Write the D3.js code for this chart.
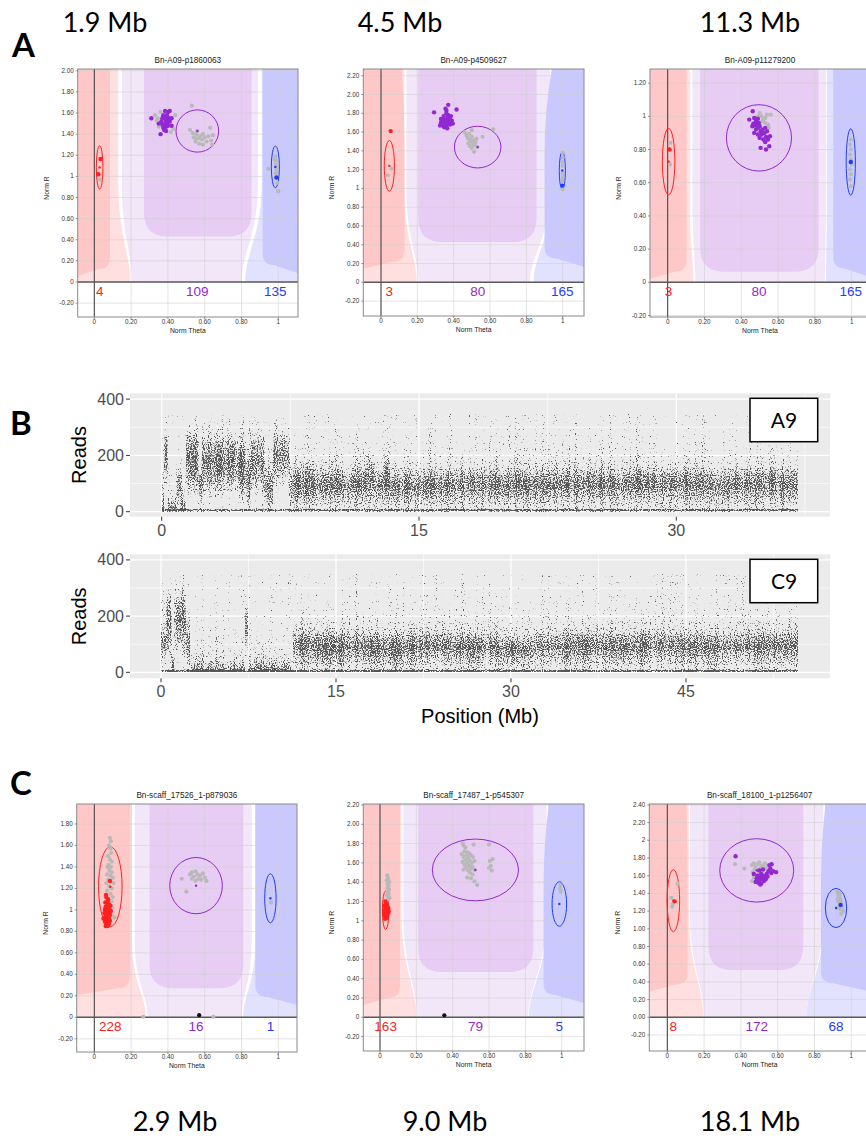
<!DOCTYPE html>
<html>
<head>
<meta charset="utf-8">
<script src="https://cdn.jsdelivr.net/npm/d3@7"></script>
<style>
  body { margin: 0; background: #fff; }
  svg { display: block; }
</style>
</head>
<body>
<svg id="fig" width="866" height="1143"></svg>
<script>
// ---------------- cluster plot data (Norm Theta, Norm R) ----------------
const thetaTicks = [0, 0.2, 0.4, 0.6, 0.8, 1];
const thetaLabels = ["0", "0.20", "0.40", "0.60", "0.80", "1"];

// A09 marker at 1.9 Mb
const a1Title = "Bn-A09-p1860063";
const a1RTicks = [2, 1.8, 1.6, 1.4, 1.2, 1, 0.8, 0.6, 0.4, 0.2, 0, -0.2];
const a1RLabels = ["2.00", "1.80", "1.60", "1.40", "1.20", "1", "0.80", "0.60", "0.40", "0.20", "0", "-0.20"];
const a1Counts = [4, 109, 135];
const a1Ellipses = [[0.029, 1.085, 0.018, 0.205], [0.56, 1.43, 0.116, 0.2], [0.984, 1.09, 0.022, 0.197]];
const a1Gray = [[0.33,1.58],[0.34,1.53],[0.35,1.47],[0.36,1.61],[0.44,1.58],[0.43,1.45],[0.415,1.42],[0.345,1.55],
  [0.53,1.67],[0.52,1.44],[0.535,1.41],[0.54,1.37],[0.55,1.33],[0.555,1.40],[0.565,1.36],[0.57,1.31],[0.575,1.38],
  [0.585,1.35],[0.59,1.40],[0.60,1.37],[0.61,1.33],[0.62,1.38],[0.63,1.46],[0.635,1.34],[0.645,1.39],[0.64,1.30],
  [0.59,1.30],[0.55,1.36],[0.56,1.43],[0.032,0.97],
  [0.946,1.07],[0.985,1.19],[0.99,1.15],[0.985,1.12],[0.99,1.06],[0.985,1.03],[0.995,0.94],[1.0,0.86],[0.99,1.09],[0.98,1.16]];
const a1Red = [[0.034, 1.165], [0.022, 1.02]];
const a1Purple = [[0.31,1.55],[0.36,1.40],[0.385,1.62],[0.40,1.61],[0.41,1.62],[0.42,1.55],[0.375,1.58],[0.38,1.55],
  [0.39,1.53],[0.395,1.56],[0.40,1.51],[0.385,1.50],[0.37,1.49],[0.375,1.46],[0.39,1.47],[0.40,1.48],[0.41,1.52],
  [0.38,1.44],[0.365,1.52],[0.395,1.58],[0.405,1.55],[0.37,1.55],[0.39,1.43],[0.42,1.48],[0.35,1.50]];
const a1Blue = [[0.99, 0.99]];

// A09 marker at 4.5 Mb
const a2Title = "Bn-A09-p4509627";
const a2RTicks = [2.2, 2, 1.8, 1.6, 1.4, 1.2, 1, 0.8, 0.6, 0.4, 0.2, 0, -0.2];
const a2RLabels = ["2.20", "2.00", "1.80", "1.60", "1.40", "1.20", "1", "0.80", "0.60", "0.40", "0.20", "0", "-0.20"];
const a2Counts = [3, 80, 165];
const a2Ellipses = [[0.046, 1.24, 0.028, 0.27], [0.532, 1.44, 0.128, 0.222], [0.998, 1.19, 0.017, 0.2]];
const a2Gray = [[0.46,1.60],[0.47,1.57],[0.475,1.55],[0.48,1.53],[0.485,1.58],[0.49,1.52],[0.495,1.50],[0.50,1.55],
  [0.505,1.48],[0.51,1.51],[0.515,1.46],[0.52,1.49],[0.49,1.45],[0.50,1.43],[0.48,1.48],[0.525,1.53],[0.53,1.44],
  [0.512,1.39],[0.559,1.55],[0.618,1.63],[0.50,1.62],[0.037,1.14],[0.059,1.21],
  [1.0,1.38],[1.0,1.33],[0.998,1.28],[1.0,1.24],[1.0,1.16],[1.0,1.12],[0.998,1.08],[1.0,1.02],[1.0,0.99]];
const a2Red = [[0.053, 1.61]];
const a2Purple = [[0.292,1.81],[0.416,1.84],[0.37,1.89],[0.355,1.85],[0.36,1.80],[0.345,1.77],[0.37,1.78],[0.365,1.75],
  [0.35,1.73],[0.34,1.71],[0.33,1.70],[0.355,1.70],[0.37,1.72],[0.38,1.74],[0.375,1.69],[0.36,1.67],[0.35,1.65],
  [0.34,1.68],[0.385,1.77],[0.39,1.72],[0.365,1.64],[0.33,1.74],[0.345,1.66],[0.38,1.68],[0.36,1.83],[0.395,1.69],[0.325,1.67]];
const a2Blue = [[0.998, 1.03]];

// A09 marker at 11.3 Mb
const a3Title = "Bn-A09-p11279200";
const a3RTicks = [1.2, 1, 0.8, 0.6, 0.4, 0.2, 0, -0.2];
const a3RLabels = ["1.20", "1", "0.80", "0.60", "0.40", "0.20", "0", "-0.20"];
const a3Counts = [3, 80, 165];
const a3Ellipses = [[0.005, 0.727, 0.034, 0.2], [0.496, 0.87, 0.177, 0.2], [0.995, 0.725, 0.025, 0.2]];
const a3Gray = [[0.50,1.02],[0.51,1.0],[0.52,0.98],[0.53,0.99],[0.54,1.01],[0.56,1.01],[0.545,0.95],[0.55,0.93],
  [0.53,0.96],[0.515,0.97],[0.505,0.93],[0.535,0.91],[0.525,0.89],[0.50,0.96],[0.49,1.0],[0.015,0.84],[0.012,0.71],
  [0.995,0.86],[0.99,0.83],[0.995,0.80],[0.99,0.77],[0.995,0.74],[1.0,0.71],[0.99,0.68],[0.995,0.65],[0.99,0.62],[0.995,0.58]];
const a3Red = [[0.01, 0.80]];
const a3Purple = [[0.462,1.03],[0.443,0.98],[0.47,0.99],[0.48,0.97],[0.485,0.95],[0.49,0.93],[0.495,0.96],[0.50,0.94],
  [0.505,0.91],[0.51,0.89],[0.48,0.92],[0.47,0.90],[0.49,0.89],[0.50,0.87],[0.52,0.86],[0.53,0.93],[0.54,0.91],
  [0.556,0.88],[0.545,0.86],[0.505,0.81],[0.534,0.80],[0.552,0.82],[0.46,0.94],[0.475,0.945],[0.515,0.92],
  [0.525,0.90],[0.535,0.875],[0.53,0.845],[0.49,0.985],[0.465,0.955]];
const a3Blue = [[0.995, 0.725]];

// C09 scaffold marker at 2.9 Mb
const c1Title = "Bn-scaff_17526_1-p879036";
const c1RTicks = [1.8, 1.6, 1.4, 1.2, 1, 0.8, 0.6, 0.4, 0.2, 0, -0.2];
const c1RLabels = ["1.80", "1.60", "1.40", "1.20", "1", "0.80", "0.60", "0.40", "0.20", "0", "-0.20"];
const c1Counts = [228, 16, 1];
const c1Ellipses = [[0.087, 1.216, 0.064, 0.372], [0.553, 1.226, 0.143, 0.262], [0.957, 1.108, 0.031, 0.228]];
const c1Gray = [[0.085,1.67],[0.09,1.64],[0.08,1.6],[0.088,1.57],[0.092,1.53],[0.075,1.50],[0.085,1.47],[0.095,1.45],
  [0.078,1.42],[0.09,1.40],[0.082,1.37],[0.095,1.35],[0.07,1.33],[0.087,1.32],[0.1,1.30],[0.075,1.28],[0.09,1.26],
  [0.105,1.25],[0.08,1.22],[0.095,1.20],[0.07,1.18],[0.088,1.15],[0.1,1.12],[0.078,1.10],[0.093,1.08],[0.085,1.05],
  [0.1,1.02],[0.08,0.98],[0.095,0.95],[0.11,0.93],[0.065,1.25],[0.072,1.4],
  [0.475,1.29],[0.52,1.33],[0.53,1.35],[0.54,1.31],[0.55,1.36],[0.56,1.33],[0.565,1.29],[0.575,1.32],[0.58,1.28],
  [0.59,1.34],[0.60,1.30],[0.61,1.27],[0.55,1.27],[0.50,1.17],[0.53,1.29],
  [0.96,1.07],[0.266,0.005],[0.647,0.005]];
const c1Red = [[0.085,1.27],[0.064,1.14],[0.065,1.12],[0.075,1.10],[0.06,1.07],[0.07,1.06],[0.08,1.05],[0.062,1.03],
  [0.072,1.02],[0.082,1.01],[0.058,1.0],[0.068,0.99],[0.078,0.985],[0.065,0.97],[0.075,0.96],[0.085,0.955],[0.06,0.94],
  [0.07,0.93],[0.08,0.925],[0.065,0.91],[0.075,0.90],[0.058,0.89],[0.07,0.88],[0.08,0.87],[0.065,0.86],[0.062,0.85],
  [0.072,0.85],[0.055,0.97],[0.09,0.99],[0.088,1.04],[0.05,0.92],[0.073,1.08],[0.06,1.01],[0.078,0.94],[0.068,0.965],[0.085,0.9]];
const c1Purple = [];
const c1Blue = [];
const c1Uncalled = [[0.57, 0.02]];

// C09 scaffold marker at 9.0 Mb
const c2Title = "Bn-scaff_17487_1-p545307";
const c2RTicks = [2.2, 2, 1.8, 1.6, 1.4, 1.2, 1, 0.8, 0.6, 0.4, 0.2, 0, -0.2];
const c2RLabels = ["2.20", "2.00", "1.80", "1.60", "1.40", "1.20", "1", "0.80", "0.60", "0.40", "0.20", "0", "-0.20"];
const c2Counts = [163, 79, 5];
const c2Ellipses = [[0.031, 1.11, 0.018, 0.2], [0.525, 1.527, 0.237, 0.32], [0.987, 1.174, 0.04, 0.23]];
const c2Gray = [[0.04,1.47],[0.045,1.44],[0.038,1.42],[0.05,1.40],[0.042,1.38],[0.047,1.36],[0.04,1.34],[0.05,1.32],
  [0.043,1.30],[0.048,1.28],[0.039,1.26],[0.052,1.24],[0.045,1.22],
  [0.455,1.80],[0.46,1.78],[0.47,1.76],[0.465,1.72],[0.48,1.71],[0.45,1.69],[0.475,1.68],[0.49,1.70],[0.50,1.68],
  [0.46,1.66],[0.485,1.65],[0.51,1.66],[0.47,1.63],[0.495,1.62],[0.455,1.61],[0.48,1.60],[0.505,1.60],[0.52,1.62],
  [0.465,1.58],[0.49,1.57],[0.51,1.56],[0.475,1.55],[0.50,1.54],[0.485,1.52],[0.52,1.53],[0.46,1.53],[0.495,1.50],
  [0.51,1.48],[0.48,1.45],[0.50,1.44],[0.52,1.41],[0.535,1.37],[0.515,1.79],[0.60,1.79],[0.605,1.62],[0.61,1.57],
  [0.62,1.64],[0.60,1.55],[0.615,1.52],
  [0.993,1.37],[0.99,1.33],[0.995,1.30]];
const c2Red = [[0.03,1.20],[0.035,1.18],[0.025,1.16],[0.04,1.15],[0.03,1.14],[0.045,1.13],[0.035,1.12],[0.025,1.11],
  [0.04,1.10],[0.03,1.09],[0.045,1.08],[0.035,1.07],[0.025,1.06],[0.04,1.05],[0.03,1.04],[0.038,1.03],[0.028,1.02],
  [0.042,1.12],[0.022,1.09],[0.048,1.1],[0.033,1.06],[0.036,1.16]];
const c2Purple = [];
const c2Blue = [];
const c2Uncalled = [[0.354, 0.02]];

// C09 scaffold marker at 18.1 Mb
const c3Title = "Bn-scaff_18100_1-p1256407";
const c3RTicks = [2.4, 2.2, 2, 1.8, 1.6, 1.4, 1.2, 1, 0.8, 0.6, 0.4, 0.2, 0, -0.2];
const c3RLabels = ["2.40", "2.20", "2", "1.80", "1.60", "1.40", "1.20", "1.00", "0.80", "0.60", "0.40", "0.20", "0.00", "-0.20"];
const c3Counts = [8, 172, 68];
const c3Ellipses = [[0.033, 1.318, 0.034, 0.35], [0.486, 1.66, 0.201, 0.358], [0.917, 1.235, 0.058, 0.222]];
const c3Gray = [[0.022,1.35],[0.026,1.25],[0.056,1.51],[0.03,1.28],
  [0.46,1.72],[0.47,1.74],[0.48,1.70],[0.49,1.73],[0.50,1.75],[0.51,1.71],[0.475,1.67],[0.49,1.66],[0.505,1.68],
  [0.52,1.70],[0.53,1.74],[0.535,1.68],[0.465,1.64],[0.48,1.61],[0.50,1.62],[0.515,1.64],[0.47,1.58],[0.49,1.56],
  [0.545,1.71],[0.46,1.54],[0.368,1.73],[0.419,1.68],[0.56,1.66],
  [0.925,1.42],[0.93,1.39],[0.94,1.40],[0.935,1.36],[0.925,1.34],[0.94,1.33],[0.93,1.31],[0.945,1.30],[0.935,1.28],
  [0.95,1.25],[0.94,1.22],[0.955,1.20],[0.945,1.17],[0.93,1.24]];
const c3Red = [[0.04, 1.31]];
const c3Purple = [[0.371,1.82],[0.50,1.66],[0.51,1.62],[0.49,1.60],[0.505,1.58],[0.515,1.56],[0.52,1.60],[0.53,1.58],
  [0.525,1.54],[0.50,1.55],[0.485,1.57],[0.495,1.52],[0.51,1.51],[0.54,1.62],[0.55,1.65],[0.545,1.59],[0.56,1.68],
  [0.565,1.63],[0.575,1.65],[0.591,1.64],[0.555,1.72],[0.567,1.73],[0.535,1.56],[0.52,1.67],[0.47,1.62],[0.48,1.53],[0.505,1.50]];
const c3Blue = [[0.942, 1.27]];

// ---------------- read depth along chromosomes ----------------
// [start Mb, end Mb, dense band low, dense band high] in reads
const readTicks = [0, 200, 400];
const a9Length = 37.1;
const a9Ticks = [0, 15, 30];
const a9Windows = [
  [0.00, 0.15, 0, 25], [0.15, 0.35, 140, 250], [0.35, 0.85, 0, 25], [0.85, 1.15, 60, 130],
  [1.15, 1.40, 0, 30], [1.40, 2.15, 120, 250], [2.15, 2.35, 60, 130], [2.35, 3.40, 110, 240],
  [3.40, 4.40, 120, 230], [4.40, 4.90, 100, 220], [4.90, 5.20, 60, 170], [5.20, 6.00, 120, 240],
  [6.00, 6.50, 40, 130], [6.50, 7.45, 150, 250], [7.45, 9.00, 50, 135], [9.00, 11.0, 60, 125],
  [11.0, 12.0, 65, 130], [12.0, 12.4, 75, 170], [12.4, 13.0, 60, 125], [13.0, 13.3, 70, 150],
  [13.3, 15.0, 55, 120], [15.0, 17.0, 60, 125], [17.0, 19.0, 65, 130], [19.0, 21.0, 60, 125],
  [21.0, 23.0, 60, 125], [23.0, 25.0, 65, 130], [25.0, 27.0, 60, 125], [27.0, 29.0, 65, 130],
  [29.0, 31.0, 65, 135], [31.0, 33.0, 60, 130], [33.0, 35.0, 65, 130], [35.0, 37.1, 65, 135]
];
const c9Length = 54.6;
const c9Ticks = [0, 15, 30, 45];
const c9Windows = [
  [0.00, 0.45, 70, 130], [0.45, 0.90, 120, 250], [0.90, 1.15, 0, 40], [1.15, 1.75, 130, 240],
  [1.75, 2.15, 120, 250], [2.15, 2.50, 60, 140], [2.50, 7.20, 0, 15], [7.20, 7.45, 110, 210],
  [7.45, 11.3, 0, 15], [11.3, 13.0, 60, 130], [13.0, 15.0, 60, 125], [15.0, 17.0, 60, 120],
  [17.0, 19.0, 60, 120], [19.0, 21.0, 55, 115], [21.0, 23.0, 60, 125], [23.0, 25.0, 65, 125],
  [25.0, 27.0, 60, 120], [27.0, 29.0, 60, 120], [29.0, 32.0, 55, 105], [32.0, 35.0, 60, 120],
  [35.0, 38.0, 65, 125], [38.0, 41.0, 60, 120], [41.0, 44.0, 65, 125], [44.0, 47.0, 60, 120],
  [47.0, 50.0, 60, 120], [50.0, 54.6, 65, 125]
];

// ---------------- drawing ----------------
const svg = d3.select("#fig");
const defs = svg.append("defs");
const SANS = "'Liberation Sans', Arial, sans-serif";
const HEAD = "Lato, 'Open Sans', sans-serif";

const COL = {
  redLight: "#ffdfdf", redDark: "#ffc8c8",
  purLight: "#f2e7f9", purDark: "#e7cdf3",
  bluLight: "#e2e2ff", bluDark: "#c9c9ff",
  red: "#ff2020", purple: "#9228d2", blue: "#1f3cff", gray: "#b9b9b9"
};

function clusterPlot(p) {
  const x = d3.scaleLinear().domain([0, 1]).range([p.x0, p.x0 + p.kx]);
  const y = d3.scaleLinear().domain([0, 1]).range([p.y0, p.y0 - p.ky]);
  const [fl, ft, fr, fb] = p.frame;
  const top = y.invert(ft);
  const g = svg.append("g");

  defs.append("clipPath").attr("id", p.id + "clip")
    .append("rect").attr("x", fl).attr("y", ft).attr("width", fr - fl).attr("height", fb - ft);
  defs.append("clipPath").attr("id", p.id + "reg")
    .append("rect").attr("x", fl).attr("y", ft).attr("width", fr - fl).attr("height", y(0) - ft);

  const body = g.append("g").attr("clip-path", `url(#${p.id}clip)`);
  body.append("rect").attr("x", fl).attr("y", ft).attr("width", fr - fl).attr("height", fb - ft).attr("fill", "#fff");

  // genotype decision regions
  const reg = body.append("g").attr("clip-path", `url(#${p.id}reg)`);
  const r = p.regions;
  const y0 = y(0), yb = y(r.bend), yc1 = y(r.bend * 0.45), yc2 = y(r.bend * 0.3);
  const yHi = y(top - (top - r.bend) * 0.35), yMidT = y(top * 0.6);

  // light red
  reg.append("path").attr("fill", COL.redLight).attr("d",
    `M${fl},${ft}L${x(r.rl[0])},${ft}L${x(r.rl[0])},${yb}` +
    `C${x(r.rl[0])},${yc1} ${x(r.rl[1])},${yc2} ${x(r.rl[1])},${y0}L${fl},${y0}Z`);
  // dark red
  {
    const xt = x(r.rd[0]), xm = x(r.rd[1]), ybt = y(r.rd[2]);
    reg.append("path").attr("fill", COL.redDark).attr("d",
      `M${fl},${ft}L${xt},${ft}Q${xm},${yHi} ${xm},${yMidT}L${xm},${ybt - 12}` +
      `Q${xm},${ybt} ${xm - 12},${ybt}L${fl},${ybt + 7}Z`);
  }
  // light purple
  {
    const [lt, lb, rt, rb] = r.pl;
    reg.append("path").attr("fill", COL.purLight).attr("d",
      `M${x(lt)},${ft}L${x(rt)},${ft}L${x(rt)},${yb}C${x(rt)},${yc1} ${x(rb)},${yc2} ${x(rb)},${y0}` +
      `L${x(lb)},${y0}C${x(lb)},${yc2} ${x(lt)},${yc1} ${x(lt)},${yb}Z`);
  }
  // dark purple
  {
    const xl = x(r.pd[0]), xr = x(r.pd[1]), ybt = y(r.pd[2]);
    const rad = Math.min(24, (ybt - ft) * 0.3);
    reg.append("path").attr("fill", COL.purDark).attr("d",
      `M${xl},${ft}L${xr},${ft}L${xr},${ybt - rad}Q${xr},${ybt} ${xr - rad},${ybt}` +
      `L${xl + rad},${ybt}Q${xl},${ybt} ${xl},${ybt - rad}Z`);
  }
  // light blue
  reg.append("path").attr("fill", COL.bluLight).attr("d",
    `M${x(r.bl[0])},${ft}L${fr},${ft}L${fr},${y0}L${x(r.bl[1])},${y0}` +
    `C${x(r.bl[1])},${yc2} ${x(r.bl[0])},${yc1} ${x(r.bl[0])},${yb}Z`);
  // dark blue
  {
    const xt = x(r.bd[0]), xm = x(r.bd[1]), ybt = y(r.bd[2]);
    reg.append("path").attr("fill", COL.bluDark).attr("d",
      `M${xt},${ft}L${fr},${ft}L${fr},${ybt + 5}L${xm + 12},${ybt - 3}` +
      `Q${xm},${ybt - 3} ${xm},${ybt - 15}L${xm},${yMidT}Q${xm},${yHi} ${xt},${ft}Z`);
  }

  // grid
  body.append("g").selectAll("line.v").data(thetaTicks).join("line")
    .attr("x1", d => x(d)).attr("x2", d => x(d)).attr("y1", ft).attr("y2", fb)
    .attr("stroke", "#cfcfcf").attr("stroke-opacity", 0.7).attr("stroke-width", 0.8);
  body.append("g").selectAll("line.h").data(p.rTicks).join("line")
    .attr("x1", fl).attr("x2", fr).attr("y1", d => y(d)).attr("y2", d => y(d))
    .attr("stroke", "#cfcfcf").attr("stroke-opacity", 0.7).attr("stroke-width", 0.8);

  // zero axes
  body.append("line").attr("x1", x(0)).attr("x2", x(0)).attr("y1", ft).attr("y2", fb)
    .attr("stroke", "#3a3a3a").attr("stroke-width", 1);
  body.append("line").attr("x1", fl).attr("x2", fr).attr("y1", y(0)).attr("y2", y(0))
    .attr("stroke", "#5a5a5a").attr("stroke-width", 1.4);

  // cluster ellipses
  const ecol = [COL.red, COL.purple, COL.blue];
  body.append("g").selectAll("ellipse").data(p.ellipses).join("ellipse")
    .attr("cx", d => x(d[0])).attr("cy", d => y(d[1]))
    .attr("rx", d => x(d[0] + d[2]) - x(d[0])).attr("ry", d => y(d[1]) - y(d[1] + d[3]))
    .attr("fill", "none").attr("stroke", (d, i) => ecol[i]).attr("stroke-width", 1);

  // samples
  const dots = (data, color, rad) => body.append("g").selectAll("circle").data(data).join("circle")
    .attr("cx", d => x(d[0])).attr("cy", d => y(d[1])).attr("r", rad).attr("fill", color);
  dots(p.gray, COL.gray, 2.1);
  dots(p.uncalled || [], "#111", 2.1);
  dots(p.red, COL.red, 2.2);
  dots(p.purple, COL.purple, 2.2);
  dots(p.blue, COL.blue, 2.2);
  // cluster centres
  body.append("g").selectAll("circle").data(p.ellipses).join("circle")
    .attr("cx", d => x(d[0])).attr("cy", d => y(d[1])).attr("r", 1.2).attr("fill", (d, i) => ecol[i]);

  // genotype counts
  body.append("g").selectAll("text").data(p.counts).join("text")
    .attr("x", (d, i) => x(p.ellipses[i][0])).attr("y", y(0) + 14)
    .attr("text-anchor", "middle").attr("font-family", SANS).attr("font-size", 13.5)
    .attr("fill", (d, i) => ecol[i]).text(d => d);

  // frame
  g.append("rect").attr("x", fl).attr("y", ft).attr("width", fr - fl).attr("height", fb - ft)
    .attr("fill", "none").attr("stroke", "#8a8a8a").attr("stroke-width", 1);

  // tick labels
  g.append("g").selectAll("text").data(p.rTicks).join("text")
    .attr("x", fl - 4).attr("y", d => y(d) + 2).attr("text-anchor", "end")
    .attr("font-family", SANS).attr("font-size", 6.3).attr("fill", "#333").text((d, i) => p.rLabels[i]);
  g.append("g").selectAll("line").data(p.rTicks).join("line")
    .attr("x1", fl - 2).attr("x2", fl).attr("y1", d => y(d)).attr("y2", d => y(d)).attr("stroke", "#666").attr("stroke-width", 0.7);
  g.append("g").selectAll("text").data(thetaTicks).join("text")
    .attr("x", d => x(d)).attr("y", fb + 7).attr("text-anchor", "middle")
    .attr("font-family", SANS).attr("font-size", 6.3).attr("fill", "#333").text((d, i) => thetaLabels[i]);
  g.append("g").selectAll("line").data(thetaTicks).join("line")
    .attr("x1", d => x(d)).attr("x2", d => x(d)).attr("y1", fb).attr("y2", fb + 2).attr("stroke", "#666").attr("stroke-width", 0.7);

  // titles
  g.append("text").attr("x", (fl + Math.min(fr, 870)) / 2).attr("y", ft - 6).attr("text-anchor", "middle")
    .attr("font-family", SANS).attr("font-size", 8.2).attr("fill", "#222").text(p.title);
  g.append("text").attr("x", (fl + Math.min(fr, 870)) / 2).attr("y", fb + 16).attr("text-anchor", "middle")
    .attr("font-family", SANS).attr("font-size", 6.8).attr("fill", "#222").text("Norm Theta");
  g.append("text").attr("transform", `translate(${fl - 29},${(ft + fb) / 2 - 5}) rotate(-90)`)
    .attr("text-anchor", "middle").attr("font-family", SANS).attr("font-size", 6.8).attr("fill", "#222").text("Norm R");
}

const plots = [
  { id: "a1", title: a1Title, rTicks: a1RTicks, rLabels: a1RLabels, counts: a1Counts, ellipses: a1Ellipses,
    gray: a1Gray, red: a1Red, purple: a1Purple, blue: a1Blue,
    x0: 94.3, kx: 184, y0: 282, ky: 105.6, frame: [77.7, 69, 298, 317],
    regions: { rl: [0.13, 0.195], rd: [0.085, 0.085, 0.12], pl: [0.15, 0.205, 0.89, 0.80], pd: [0.27, 0.855, 0.43],
      bl: [0.91, 0.82], bd: [0.915, 0.915, 0.13], bend: 0.95 } },
  { id: "a2", title: a2Title, rTicks: a2RTicks, rLabels: a2RLabels, counts: a2Counts, ellipses: a2Ellipses,
    gray: a2Gray, red: a2Red, purple: a2Purple, blue: a2Blue,
    x0: 381, kx: 181.7, y0: 282.3, ky: 93.9, frame: [363.3, 69, 584, 316],
    regions: { rl: [0.128, 0.196], rd: [0.115, 0.13, 0.22], pl: [0.14, 0.205, 0.93, 0.82], pd: [0.205, 0.856, 0.43],
      bl: [0.94, 0.84], bd: [0.94, 0.90, 0.22], bend: 1.0 } },
  { id: "a3", title: a3Title, rTicks: a3RTicks, rLabels: a3RLabels, counts: a3Counts, ellipses: a3Ellipses,
    gray: a3Gray, red: a3Red, purple: a3Purple, blue: a3Blue,
    x0: 667.7, kx: 184, y0: 282.3, ky: 166, frame: [650, 69, 870, 317],
    regions: { rl: [0.12, 0.14], rd: [0.103, 0.103, 0.064], pl: [0.135, 0.15, 0.86, 0.855], pd: [0.176, 0.82, 0.064],
      bl: [0.865, 0.86], bd: [0.9, 0.9, 0.064], bend: 0.5 } },
  { id: "c1", title: c1Title, rTicks: c1RTicks, rLabels: c1RLabels, counts: c1Counts, ellipses: c1Ellipses,
    gray: c1Gray, red: c1Red, purple: c1Purple, blue: c1Blue, uncalled: c1Uncalled,
    x0: 94.3, kx: 184, y0: 1017.3, ky: 107.4, frame: [76.7, 804, 297, 1052],
    regions: { rl: [0.205, 0.28], rd: [0.194, 0.194, 0.27], pl: [0.22, 0.29, 0.855, 0.80], pd: [0.30, 0.81, 0.27],
      bl: [0.875, 0.81], bd: [0.875, 0.875, 0.16], bend: 0.7 } },
  { id: "c2", title: c2Title, rTicks: c2RTicks, rLabels: c2RLabels, counts: c2Counts, ellipses: c2Ellipses,
    gray: c2Gray, red: c2Red, purple: c2Purple, blue: c2Blue, uncalled: c2Uncalled,
    x0: 380, kx: 181.7, y0: 1017.3, ky: 96.5, frame: [363.3, 804, 584, 1051],
    regions: { rl: [0.118, 0.2], rd: [0.11, 0.11, 0.2], pl: [0.128, 0.205, 0.917, 0.816], pd: [0.21, 0.844, 0.47],
      bl: [0.925, 0.82], bd: [0.93, 0.9, 0.2], bend: 1.1 } },
  { id: "c3", title: c3Title, rTicks: c3RTicks, rLabels: c3RLabels, counts: c3Counts, ellipses: c3Ellipses,
    gray: c3Gray, red: c3Red, purple: c3Purple, blue: c3Blue,
    x0: 667.3, kx: 184, y0: 1017.3, ky: 88.5, frame: [649.3, 804, 870, 1051],
    regions: { rl: [0.117, 0.196], rd: [0.105, 0.11, 0.37], pl: [0.123, 0.2, 0.848, 0.757], pd: [0.223, 0.739, 0.535],
      bl: [0.857, 0.757], bd: [0.86, 0.835, 0.35], bend: 1.2 } }
];
plots.forEach(clusterPlot);

// ---------- dithering filter: read-cloud opacity becomes dot density ----------
{
  const f = defs.append("filter").attr("id", "dither").attr("filterUnits", "userSpaceOnUse")
    .attr("x", 0).attr("y", 380).attr("width", 866).attr("height", 320)
    .attr("color-interpolation-filters", "sRGB");
  f.append("feTurbulence").attr("type", "fractalNoise").attr("baseFrequency", "0.85")
    .attr("numOctaves", 1).attr("seed", 4).attr("result", "n");
  f.append("feColorMatrix").attr("in", "n").attr("type", "matrix")
    .attr("values", "0 0 0 0 0  0 0 0 0 0  0 0 0 0 0  1 0 0 0 0").attr("result", "m1");
  f.append("feTurbulence").attr("type", "fractalNoise").attr("baseFrequency", "0.2 0.008")
    .attr("numOctaves", 2).attr("seed", 24).attr("result", "s");
  f.append("feColorMatrix").attr("in", "s").attr("type", "matrix")
    .attr("values", "0 0 0 0 0  0 0 0 0 0  0 0 0 0 0  1 0 0 0 0").attr("result", "m2");
  f.append("feComposite").attr("in", "m1").attr("in2", "m2").attr("operator", "arithmetic")
    .attr("k1", 0).attr("k2", 1).attr("k3", 0.25).attr("k4", -0.125).attr("result", "m");
  f.append("feComposite").attr("in", "SourceGraphic").attr("in2", "m").attr("operator", "arithmetic")
    .attr("k1", 0).attr("k2", 10).attr("k3", 10).attr("k4", -10.6).attr("result", "d");
  f.append("feGaussianBlur").attr("in", "d").attr("stdDeviation", 0.35);
}

function readsPanel(c) {
  const [pl, pt, pr, pb] = c.frame;
  const x = d3.scaleLinear().domain([0, 15]).range([c.x0, c.x15]);
  const y = d3.scaleLinear().domain([0, 200]).range([c.y0, c.y200]);
  const g = svg.append("g");
  defs.append("clipPath").attr("id", c.id + "clip")
    .append("rect").attr("x", pl).attr("y", pt).attr("width", pr - pl).attr("height", pb - pt);

  g.append("rect").attr("x", pl).attr("y", pt).attr("width", pr - pl).attr("height", pb - pt).attr("fill", "#ebebeb");
  const minorX = c.ticks.map(t => t + 7.5).filter(t => x(t) < pr);
  const grid = g.append("g").attr("clip-path", `url(#${c.id}clip)`);
  grid.selectAll("line.mx").data(minorX).join("line")
    .attr("x1", d => x(d)).attr("x2", d => x(d)).attr("y1", pt).attr("y2", pb).attr("stroke", "#fff").attr("stroke-width", 0.6);
  grid.selectAll("line.my").data([100, 300]).join("line")
    .attr("x1", pl).attr("x2", pr).attr("y1", d => y(d)).attr("y2", d => y(d)).attr("stroke", "#fff").attr("stroke-width", 0.6);
  grid.selectAll("line.Mx").data(c.ticks).join("line")
    .attr("x1", d => x(d)).attr("x2", d => x(d)).attr("y1", pt).attr("y2", pb).attr("stroke", "#fff").attr("stroke-width", 1.2);
  grid.selectAll("line.My").data(readTicks).join("line")
    .attr("x1", pl).attr("x2", pr).attr("y1", d => y(d)).attr("y2", d => y(d)).attr("stroke", "#fff").attr("stroke-width", 1.2);

  // one vertical opacity profile per window: faint tail above, dense band, spread below
  c.windows.forEach((w, i) => {
    const [s, e, lo, hi] = w;
    const vTop = Math.min(360, hi + 170), vBot = Math.max(0, lo - 60);
    const yT = y(vTop), yB = y(vBot), off = v => (y(v) - yT) / (yB - yT);
    const lg = defs.append("linearGradient").attr("id", `${c.id}w${i}`).attr("gradientUnits", "userSpaceOnUse")
      .attr("x1", 0).attr("x2", 0).attr("y1", yT).attr("y2", yB);
    [[0, 0], [off(hi + 70), 0.07], [off(hi + 30), 0.18], [off(hi), 0.35], [off((hi + lo) / 2), 0.45],
     [off(lo), 0.34], [1, 0.12]].forEach(([o, a]) =>
      lg.append("stop").attr("offset", Math.max(0, Math.min(1, o))).attr("stop-color", "#000").attr("stop-opacity", a));
  });

  const cloud = g.append("g").attr("clip-path", `url(#${c.id}clip)`)
    .append("g").attr("opacity", 0.64).attr("filter", "url(#dither)");
  // scattered high reads over the whole chromosome
  cloud.append("rect").attr("x", x(0)).attr("width", x(c.length) - x(0))
    .attr("y", y(350)).attr("height", y(0) - y(350)).attr("fill", "#000").attr("fill-opacity", 0.355);
  cloud.selectAll("rect.w").data(c.windows).join("rect").attr("class", "w")
    .attr("x", d => x(d[0])).attr("width", d => x(d[1]) - x(d[0]))
    .attr("y", d => y(Math.min(360, d[3] + 170))).attr("height", d => y(Math.max(0, d[2] - 60)) - y(Math.min(360, d[3] + 170)))
    .attr("fill", (d, i) => `url(#${c.id}w${i})`);
  // zero-read floor
  cloud.append("rect").attr("x", x(0)).attr("width", x(c.length) - x(0))
    .attr("y", y(9)).attr("height", y(0) - y(9)).attr("fill", "#000").attr("fill-opacity", 0.5);

  // axes
  g.append("g").selectAll("line").data(readTicks).join("line")
    .attr("x1", pl - 4).attr("x2", pl).attr("y1", d => y(d)).attr("y2", d => y(d)).attr("stroke", "#333").attr("stroke-width", 1);
  g.append("g").selectAll("text").data(readTicks).join("text")
    .attr("x", pl - 6).attr("y", d => y(d) + 5.5).attr("text-anchor", "end")
    .attr("font-family", SANS).attr("font-size", 16).attr("fill", "#4d4d4d").text(d => d);
  g.append("g").selectAll("line").data(c.ticks).join("line")
    .attr("x1", d => x(d)).attr("x2", d => x(d)).attr("y1", pb).attr("y2", pb + 4).attr("stroke", "#333").attr("stroke-width", 1);
  g.append("g").selectAll("text").data(c.ticks).join("text")
    .attr("x", d => x(d)).attr("y", pb + 19).attr("text-anchor", "middle")
    .attr("font-family", SANS).attr("font-size", 16).attr("fill", "#4d4d4d").text(d => d);
  g.append("text").attr("transform", `translate(86,${(pt + pb) / 2}) rotate(-90)`)
    .attr("text-anchor", "middle").attr("font-family", SANS).attr("font-size", 20).attr("fill", "#000").text("Reads");

  // chromosome tag
  g.append("rect").attr("x", 750).attr("y", pt + 5).attr("width", 67.7).attr("height", 43.4)
    .attr("fill", "#fff").attr("stroke", "#000").attr("stroke-width", 1.5);
  g.append("text").attr("x", 784).attr("y", pt + 34.5).attr("text-anchor", "middle")
    .attr("font-family", HEAD).attr("font-size", 21).attr("fill", "#000").text(c.tag);
}

readsPanel({ id: "a9", tag: "A9", windows: a9Windows, length: a9Length, ticks: a9Ticks,
  frame: [130, 393.3, 830, 516.7], x0: 161.7, x15: 419, y0: 511.7, y200: 455.4 });
readsPanel({ id: "c9", tag: "C9", windows: c9Windows, length: c9Length, ticks: c9Ticks,
  frame: [130, 554.3, 830, 678.3], x0: 161, x15: 336, y0: 672.3, y200: 616.1 });

svg.append("text").attr("x", 480).attr("y", 723).attr("text-anchor", "middle")
  .attr("font-family", SANS).attr("font-size", 20).attr("fill", "#000").text("Position (Mb)");

// ---------- panel letters and marker positions ----------
const panelLetters = [["A", 12, 57], ["B", 10, 435], ["C", 10, 795]];
svg.append("g").selectAll("text").data(panelLetters).join("text")
  .attr("x", d => d[1]).attr("y", d => d[2]).attr("font-family", HEAD).attr("font-weight", 700)
  .attr("font-size", 33).attr("fill", "#000").text(d => d[0]);

const topPositions = ["1.9 Mb", "4.5 Mb", "11.3 Mb"];
const bottomPositions = ["2.9 Mb", "9.0 Mb", "18.1 Mb"];
svg.append("g").selectAll("text").data(topPositions).join("text")
  .attr("x", (d, i) => [105, 400, 750][i]).attr("y", 32).attr("text-anchor", "middle")
  .attr("font-family", HEAD).attr("font-size", 27).attr("fill", "#000").text(d => d);
svg.append("g").selectAll("text").data(bottomPositions).join("text")
  .attr("x", (d, i) => [175, 445, 750][i]).attr("y", 1131).attr("text-anchor", "middle")
  .attr("font-family", HEAD).attr("font-size", 27).attr("fill", "#000").text(d => d);
</script>
</body>
</html>
